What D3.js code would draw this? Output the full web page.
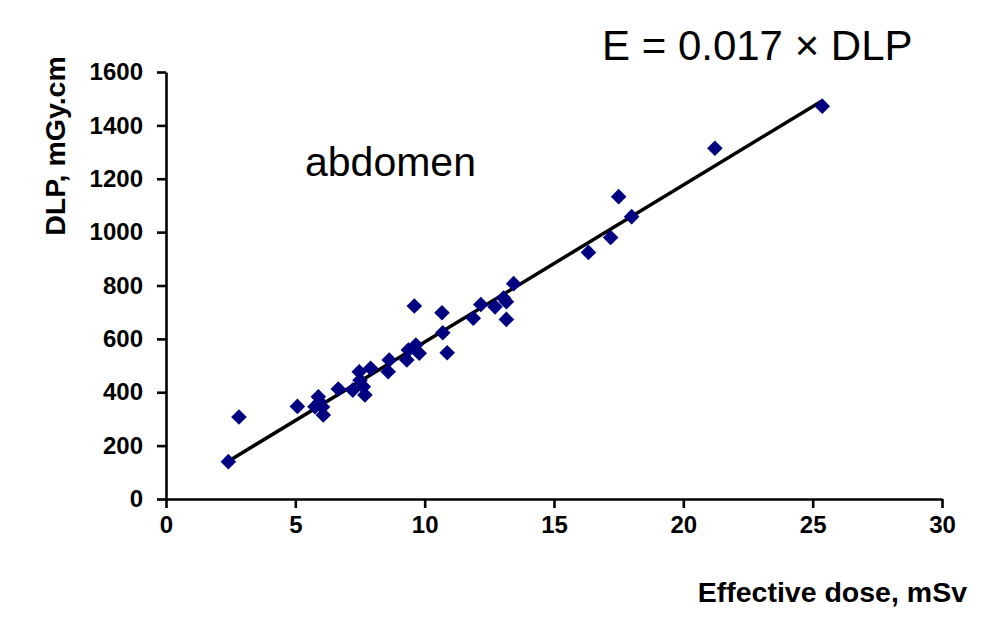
<!DOCTYPE html>
<html>
<head>
<meta charset="utf-8">
<script src="https://cdn.jsdelivr.net/npm/d3@7"></script>
<style>
  html, body { margin: 0; padding: 0; background: #fff; }
  svg { display: block; }
</style>
</head>
<body>
<svg id="chart" width="994" height="634"></svg>
<script>
// Effective dose (mSv) vs DLP (mGy.cm), abdomen
const doseValues = [2.41, 2.82, 5.08, 5.89, 5.76, 6.08, 5.95, 6.05, 6.66, 7.22, 7.47, 7.91, 7.69, 7.63, 7.50,
  8.63, 8.59, 9.31, 9.37, 9.66, 9.79, 9.60, 10.67, 10.70, 10.87, 11.88, 12.17, 12.72, 13.05, 13.16, 13.16,
  13.44, 16.33, 17.19, 17.50, 18.00, 21.22, 25.37];
const dlpValues = [140, 307, 347, 383, 346, 315, 363, 345, 412, 408, 477, 490, 390, 421, 445,
  521, 477, 521, 558, 577, 546, 723, 698, 623, 548, 677, 729, 720, 753, 739, 673,
  807, 924, 980, 1133, 1058, 1314, 1472];
const xTicks = [0, 5, 10, 15, 20, 25, 30];
const yTicks = [0, 200, 400, 600, 800, 1000, 1200, 1400, 1600];
const coefficient = 0.017; // E = 0.017 × DLP

const svg = d3.select("#chart");
const margin = { left: 166, right: 52, top: 72, bottom: 135 };
const W = 994, H = 634;

const x = d3.scaleLinear().domain([0, 30]).range([margin.left, W - margin.right]);
const y = d3.scaleLinear().domain([0, 1600]).range([H - margin.bottom, margin.top]);

const font = "'Liberation Sans', Arial, sans-serif";
const fmt = d3.format("d");

// Axes
const xAxis = svg.append("g")
  .attr("transform", `translate(0,${y(0)})`)
  .call(d3.axisBottom(x).tickValues(xTicks).tickFormat(fmt).tickSize(9).tickPadding(8).tickSizeOuter(0));
const yAxis = svg.append("g")
  .attr("transform", `translate(${x(0)},0)`)
  .call(d3.axisLeft(y).tickValues(yTicks).tickFormat(fmt).tickSize(9).tickPadding(14).tickSizeOuter(0));

[xAxis, yAxis].forEach(g => {
  g.select(".domain").attr("stroke", "#000").attr("stroke-width", 2.6);
  g.selectAll(".tick line").attr("stroke", "#000").attr("stroke-width", 2.6);
  g.selectAll(".tick text")
    .attr("fill", "#000")
    .style("font-family", font)
    .style("font-weight", "bold")
    .style("font-size", "24px");
});

// Regression line E = 0.017 × DLP  => DLP = E / 0.017
const xExt = d3.extent(doseValues);
svg.append("line")
  .attr("x1", x(xExt[0])).attr("y1", y(xExt[0] / coefficient))
  .attr("x2", x(xExt[1])).attr("y2", y(xExt[1] / coefficient))
  .attr("stroke", "#000").attr("stroke-width", 3.5);

// Points (diamonds)
const diamond = d3.symbol().type(d3.symbolDiamond2).size(155);
svg.append("g").selectAll("path")
  .data(doseValues.map((d, i) => [d, dlpValues[i]]))
  .join("path")
  .attr("d", diamond)
  .attr("transform", d => `translate(${x(d[0])},${y(d[1])})`)
  .attr("fill", "#000080");

// Labels
svg.append("text")
  .attr("x", 967).attr("y", 602)
  .attr("text-anchor", "end")
  .style("font-family", font).style("font-weight", "bold").style("font-size", "28.5px")
  .text("Effective dose, mSv");

svg.append("text")
  .attr("transform", `translate(65,146) rotate(-90)`)
  .attr("text-anchor", "middle")
  .style("font-family", font).style("font-weight", "bold").style("font-size", "28.5px")
  .text("DLP, mGy.cm");

svg.append("text")
  .attr("x", 305).attr("y", 176)
  .style("font-family", font).style("font-size", "41px")
  .text("abdomen");

svg.append("text")
  .attr("x", 602).attr("y", 60)
  .style("font-family", font).style("font-size", "42px")
  .text("E = 0.017 × DLP");
</script>
</body>
</html>
